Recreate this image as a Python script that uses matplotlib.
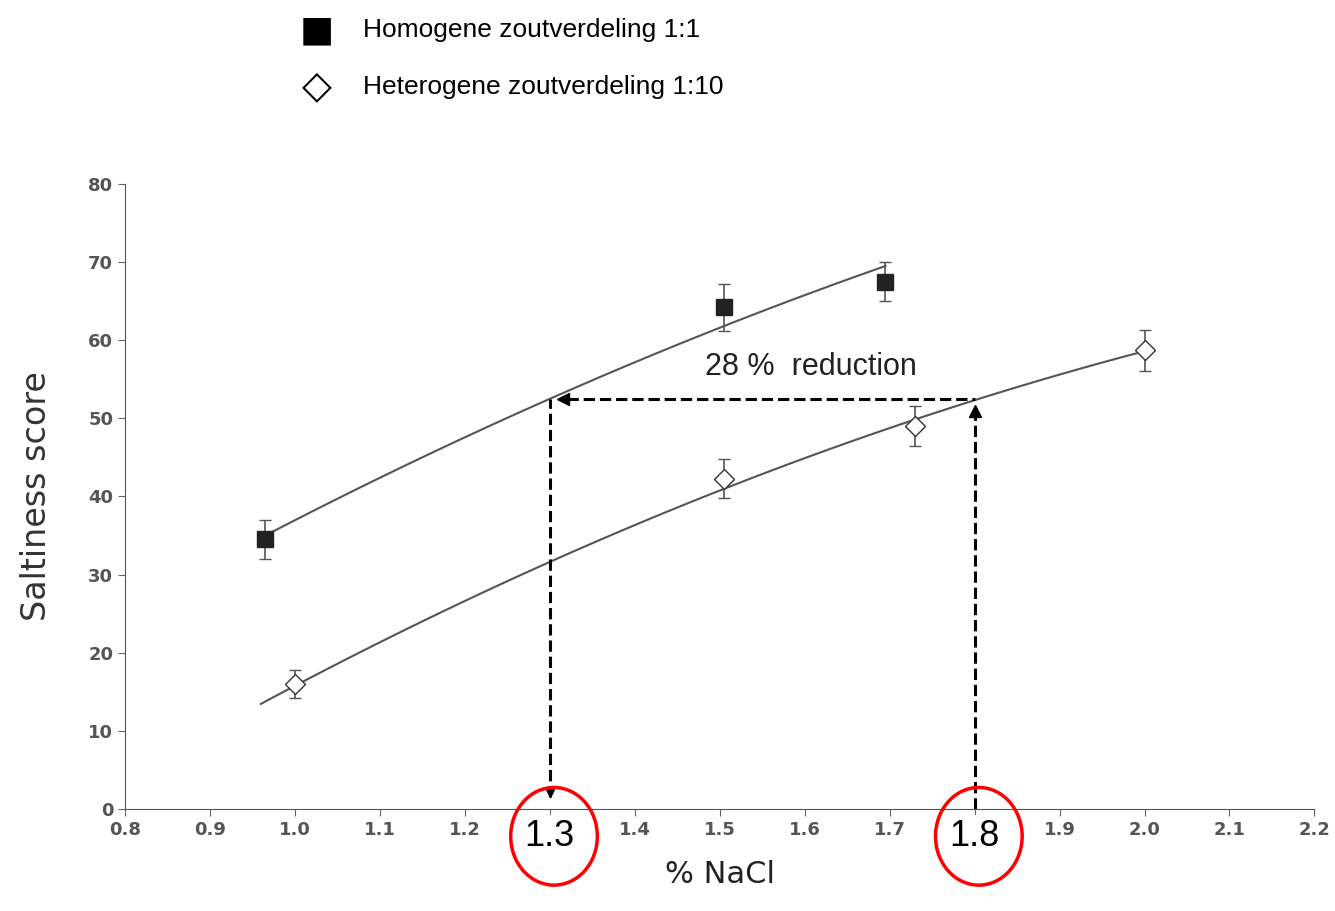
import numpy as np
import matplotlib.pyplot as plt
from matplotlib.patches import Ellipse

# data
homo_x = [0.965, 1.505, 1.695]
homo_y = [34.5, 64.2, 67.5]
homo_err = [2.5, 3.0, 2.5]

hetero_x = [1.0, 1.505, 1.73, 2.0]
hetero_y = [16.0, 42.3, 49.0, 58.7]
hetero_err = [1.8, 2.5, 2.6, 2.6]

# fitted curve anchor points
homo_curve_x = [0.965, 1.3, 1.695]
homo_curve_y = [35.0, 52.5, 69.5]
hetero_curve_x = [0.96, 1.3, 1.8, 2.0]
hetero_curve_y = [13.5, 31.5, 52.5, 58.5]

low_nacl, high_nacl, level = 1.3, 1.8, 52.5

fig = plt.figure(figsize=(13.35, 9.11), dpi=100)
ax = fig.add_axes([0.0936, 0.112, 0.891, 0.686])

grey = "#555555"
for cx, cy in [(homo_curve_x, homo_curve_y), (hetero_curve_x, hetero_curve_y)]:
    p = np.polyfit(cx, cy, 2)
    xs = np.linspace(cx[0], cx[-1], 100)
    ax.plot(xs, np.polyval(p, xs), color=grey, lw=1.5)

ax.errorbar(homo_x, homo_y, yerr=homo_err, fmt="s", color="#222222", ms=11,
            capsize=4, elinewidth=1.2, ecolor=grey)
ax.errorbar(hetero_x, hetero_y, yerr=hetero_err, fmt="D", mfc="white", mec="#333333",
            ms=10, capsize=4, elinewidth=1.2, ecolor=grey)

# dashed guide lines
ax.plot([low_nacl, low_nacl], [1.5, level], "k--", lw=2.2)
ax.plot([low_nacl], [2.0], marker="v", color="k", ms=6)
ax.plot([low_nacl + 0.02, high_nacl], [level, level], "k--", lw=2.2)
ax.plot([low_nacl + 0.015], [level], marker="<", color="k", ms=8)
ax.plot([high_nacl, high_nacl], [0, level - 1.5], "k--", lw=2.2)
ax.plot([high_nacl], [level - 1.5], marker="^", color="k", ms=8)
ax.text(1.483, 55.5, "28 %  reduction", fontsize=22, family="Liberation Sans",
        color="#222222")

ax.set_xlim(0.8, 2.2)
ax.set_ylim(0, 80)
ax.set_xticks(np.arange(0.8, 2.21, 0.1))
ax.set_xticklabels([f"{v:.1f}" for v in np.arange(0.8, 2.21, 0.1)])
ax.set_yticks(range(0, 81, 10))
ax.tick_params(colors="#666666", labelsize=13, direction="out", length=5)
for lab in ax.get_xticklabels() + ax.get_yticklabels():
    lab.set_fontweight("bold")
    lab.set_color("#555555")
for s in ["top", "right"]:
    ax.spines[s].set_visible(False)
for s in ["left", "bottom"]:
    ax.spines[s].set_color("#555555")

ax.set_ylabel("Saltiness score", fontsize=24, color="#333333", labelpad=25)
ax.set_xlabel("% NaCl", fontsize=22, color="#222222", labelpad=15)

# highlighted labels (they cover the regular tick labels, as in the reference)
for v in [low_nacl, high_nacl]:
    ax.text(v, -3.5, f"{v:.1f}", fontsize=26, ha="center", va="center",
            family="Liberation Sans", zorder=6, clip_on=False,
            bbox=dict(boxstyle="square,pad=0.1", fc="white", ec="none"))
    ax.add_patch(Ellipse((v + 0.005, -3.5), 0.102, 12.5, fill=False, ec="red", lw=2.5,
                         clip_on=False, zorder=7))

# legend at the top
fig.text(0.237, 0.967, "\u25A0", fontsize=26, ha="center", va="center")
fig.text(0.237, 0.905, "\u25C7", fontsize=28, ha="center", va="center")
fig.text(0.272, 0.967, "Homogene zoutverdeling 1:1", fontsize=19, va="center",
         family="Liberation Sans")
fig.text(0.272, 0.905, "Heterogene zoutverdeling 1:10", fontsize=19, va="center",
         family="Liberation Sans")

fig.savefig("out.png")
